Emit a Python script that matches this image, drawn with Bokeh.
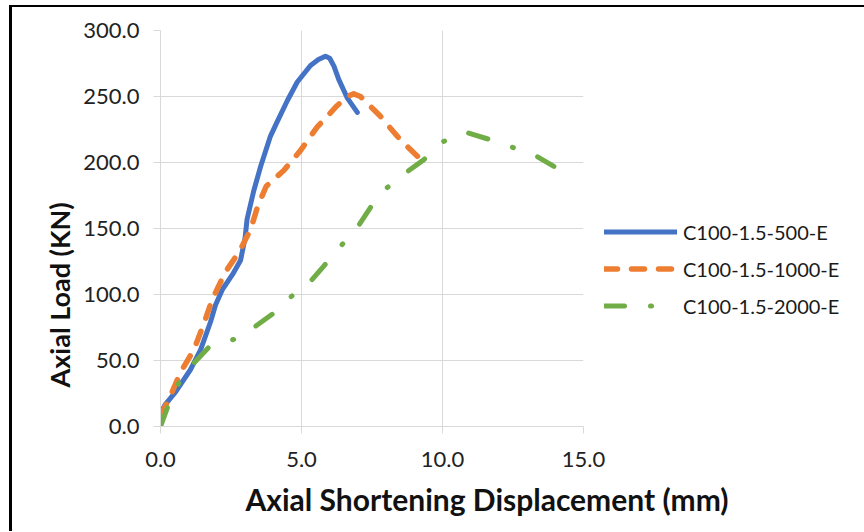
from bokeh.plotting import figure
from bokeh.models import FixedTicker, NumeralTickFormatter, Legend, LegendItem, Range1d, Title
from bokeh.embed import file_html
from bokeh.resources import INLINE

# ---- data ----
series_names = ["C100-1.5-500-E", "C100-1.5-1000-E", "C100-1.5-2000-E"]

disp_500 = [0.0, 0.18, 0.53, 1.06, 1.42, 1.77, 1.95, 2.2, 2.55, 2.84, 3.0, 3.07, 3.3,
            3.55, 3.9, 4.14, 4.5, 4.85, 5.32, 5.6, 5.85, 6.0, 6.15, 6.32, 6.62, 6.98]
load_500 = [10, 17, 26, 43, 58, 79, 92, 104, 115, 126, 143, 157, 178,
            197, 220, 231, 247, 261, 273.5, 278, 280.5, 279, 273, 263, 249, 238]

disp_1000 = [0.0, 0.35, 0.71, 1.18, 1.54, 1.83, 2.3, 2.78, 3.19, 3.45, 3.75, 4.37, 4.96,
             5.56, 6.26, 6.62, 6.85, 7.09, 7.8, 8.51, 9.1, 9.2]
load_1000 = [8, 23, 41, 58, 78, 96, 117, 132, 149, 167, 182, 194, 209,
             227, 243, 250, 252, 250, 235, 217, 205, 203]

disp_2000 = [0.0, 0.05, 0.24, 0.65, 1.18, 1.71, 2.6, 3.37, 3.96, 4.61, 5.32, 5.79,
             6.41, 7.02, 7.45, 8.04, 8.75, 9.33, 10.04, 10.82, 11.58, 12.41, 13.24, 13.95]
load_2000 = [0, 3, 14, 33, 48, 60, 66, 76, 85, 98, 110, 121.5,
             137, 152, 166, 181, 193, 202, 216, 223, 218, 212, 206, 197]

x_ticks = [0, 5, 10, 15]
y_ticks = [0, 50, 100, 150, 200, 250, 300]
x_title = "Axial Shortening Displacement (mm)"
y_title = "Axial Load (KN)"

FONT = "Lato"

p = figure(output_backend="svg", toolbar_location=None,
           frame_width=423, frame_height=396,
           x_range=Range1d(0, 15), y_range=Range1d(0, 300),
           min_border_left=148, min_border_right=281,
           min_border_top=23, min_border_bottom=105)
p.margin = (5, 0, 0, 9)
p.styles = {"border-left": "3px solid black", "border-top": "2px solid black"}
p.background_fill_color = "white"
p.border_fill_color = "white"
p.outline_line_color = None

r1 = p.line(disp_500, load_500, line_color="#4472C4", line_width=5,
            line_cap="round", line_join="round")
r2 = p.line(disp_1000, load_1000, line_color="#ED7D31", line_width=5.5,
            line_cap="round", line_join="round", line_dash="13 14")
r3 = p.line(disp_2000, load_2000, line_color="#70AD47", line_width=5,
            line_cap="round", line_join="round", line_dash="20 26 1 26")

for ax in (p.xaxis[0], p.yaxis[0]):
    ax.axis_line_color = "#d9d9d9"
    ax.major_tick_line_color = "#d9d9d9"
    ax.major_tick_out = 7
    ax.major_tick_in = 0
    ax.minor_tick_line_color = None
    ax.major_label_text_font = FONT
    ax.major_label_text_font_size = "22px"
    ax.major_label_text_color = "#222222"
    ax.formatter = NumeralTickFormatter(format="0.0")

p.xaxis[0].ticker = FixedTicker(ticks=x_ticks)
p.yaxis[0].ticker = FixedTicker(ticks=y_ticks)
p.xaxis[0].major_label_standoff = 18
p.yaxis[0].major_label_standoff = 14

p.xgrid.ticker = FixedTicker(ticks=x_ticks)
p.ygrid.ticker = FixedTicker(ticks=y_ticks)
p.grid.grid_line_color = "#d9d9d9"
p.grid.grid_line_width = 1

xt = Title(text=x_title, align="left", offset=85, standoff=18,
           text_font=FONT, text_font_style="bold", text_font_size="30px",
           text_color="#111111")
p.add_layout(xt, "below")
yt = Title(text=y_title, align="left", offset=39, standoff=10,
           text_font=FONT, text_font_style="bold", text_font_size="27px",
           text_color="#111111")
p.add_layout(yt, "left")

legend = Legend(items=[LegendItem(label=series_names[0], renderers=[r1]),
                       LegendItem(label=series_names[1], renderers=[r2]),
                       LegendItem(label=series_names[2], renderers=[r3])],
                location=(21, 102), orientation="vertical",
                glyph_width=73, glyph_height=37, label_height=37,
                label_standoff=6, spacing=0, padding=0, margin=0,
                border_line_color=None, background_fill_alpha=0,
                label_text_font=FONT, label_text_font_size="20px",
                label_text_color="#1a1a1a")
p.add_layout(legend, "right")

open("out.html", "w").write(file_html(p, INLINE))
